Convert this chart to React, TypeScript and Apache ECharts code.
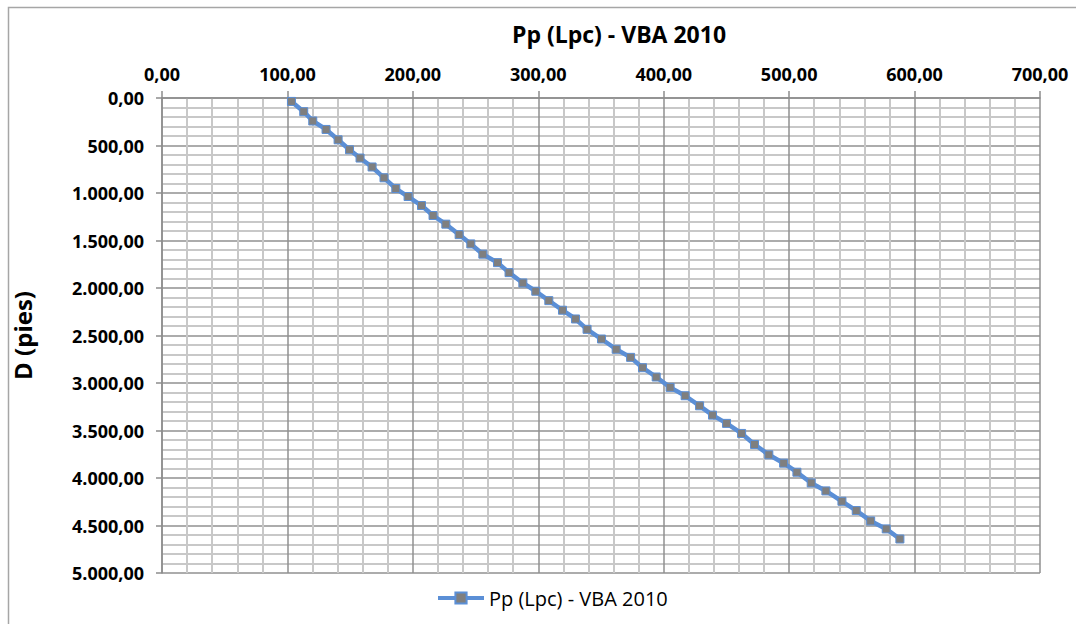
import React, { useEffect, useRef } from "react";
import * as echarts from "echarts";

const seriesName = "Pp (Lpc) - VBA 2010";
const chartTitle = "Pp (Lpc) - VBA 2010";
const yAxisName = "D (pies)";

// Pressure (Lpc) values
const pressure = [
  103.2, 113.0, 120.2, 130.8, 140.4, 149.5, 157.9, 167.5, 177.0, 186.4,
  196.2, 206.9, 216.1, 226.3, 236.9, 246.2, 255.8, 267.5, 276.7, 287.7,
  298.0, 308.4, 319.3, 329.7, 338.9, 350.4, 362.1, 373.6, 383.1, 394.0,
  405.1, 417.1, 428.6, 438.9, 450.1, 462.1, 472.4, 483.8, 495.6, 506.2,
  517.6, 529.3, 542.1, 553.5, 565.0, 577.4, 588.3,
];
// Depth (pies) values
const depth = [
  36, 144, 242, 331, 440, 545, 632, 726, 840, 953,
  1037, 1132, 1237, 1328, 1438, 1536, 1644, 1733, 1838, 1947,
  2034, 2133, 2234, 2326, 2435, 2537, 2645, 2730, 2839, 2937,
  3046, 3134, 3240, 3338, 3425, 3531, 3647, 3756, 3844, 3939,
  4052, 4136, 4245, 4343, 4452, 4536, 4642,
];

const xMin = 0;
const xMax = 700;
const xStep = 100;
const yMin = 0;
const yMax = 5000;
const yStep = 500;

function fmt(v: number): string {
  const [intPart, dec] = v.toFixed(2).split(".");
  const withDots = intPart.replace(/\B(?=(\d{3})+(?!\d))/g, ".");
  return withDots + "," + dec;
}

const FONT = "'Open Sans', 'Liberation Sans', sans-serif";

export default function App() {
  const ref = useRef<HTMLDivElement>(null);

  useEffect(() => {
    if (!ref.current) return;
    const chart = echarts.init(ref.current, undefined, { renderer: "svg" });
    const data = pressure.map((p, i) => [p, depth[i]]);
    chart.setOption({
      animation: false,
      backgroundColor: "#ffffff",
      title: {
        text: chartTitle,
        left: 614,
        top: 17,
        textAlign: "center",
        textStyle: { fontFamily: FONT, fontSize: 23, fontWeight: "bold", color: "#000" },
      },
      graphic: [
        {
          type: "rect",
          shape: { x: 8.5, y: 7.5, width: 2000, height: 2000 },
          style: { fill: "none", stroke: "#a6a6a6", lineWidth: 1.5 },
          silent: true,
        },
      ],
      legend: {
        left: 431,
        top: 583,
        itemWidth: 46,
        itemHeight: 14,
        itemGap: 10,
        lineStyle: { width: 4, color: "#5b8fd6" },
        textStyle: { fontFamily: FONT, fontSize: 20, color: "#000" },
        data: [seriesName],
      },
      grid: { left: 162, top: 98, right: 36, bottom: 51 },
      xAxis: {
        type: "value",
        position: "top",
        min: xMin,
        max: xMax,
        interval: xStep,
        axisLine: { show: true, lineStyle: { color: "#8c8c8c", width: 1.5 } },
        axisTick: { show: true, length: 7, lineStyle: { color: "#8c8c8c", width: 1.5 } },
        axisLabel: {
          formatter: (v: number) => fmt(v),
          fontFamily: FONT,
          fontSize: 18,
          fontWeight: "bold",
          color: "#000",
          margin: 15,
        },
        splitLine: { show: true, lineStyle: { color: "#909090", width: 1.5 } },
        minorTick: { show: false, splitNumber: 5 },
        minorSplitLine: { show: true, lineStyle: { color: "#c8c8c8", width: 2 } },
      },
      yAxis: {
        type: "value",
        inverse: true,
        min: yMin,
        max: yMax,
        interval: yStep,
        name: yAxisName,
        nameLocation: "middle",
        nameRotate: 90,
        nameGap: 128,
        nameTextStyle: { fontFamily: FONT, fontSize: 24, fontWeight: "bold", color: "#000" },
        axisLine: { show: true, lineStyle: { color: "#8c8c8c", width: 1.5 } },
        axisTick: { show: true, length: 6, lineStyle: { color: "#8c8c8c", width: 1.5 } },
        axisLabel: {
          formatter: (v: number) => fmt(v),
          fontFamily: FONT,
          fontSize: 18,
          fontWeight: "bold",
          color: "#000",
          margin: 18,
        },
        splitLine: { show: true, lineStyle: { color: "#909090", width: 1.5 } },
        minorTick: { show: false, splitNumber: 5 },
        minorSplitLine: { show: true, lineStyle: { color: "#c8c8c8", width: 2 } },
      },
      series: [
        {
          name: seriesName,
          type: "line",
          data,
          symbol: "rect",
          symbolSize: 8,
          lineStyle: { color: "#5b8fd6", width: 4.5 },
          itemStyle: { color: "#7f7f7f", borderColor: "#5b8fd6", borderWidth: 1 },
        },
      ],
    });
    return () => chart.dispose();
  }, []);

  return (
    <div
      ref={ref}
      style={{ position: "absolute", left: 0, top: 0, width: 1076, height: 624 }}
    />
  );
}
